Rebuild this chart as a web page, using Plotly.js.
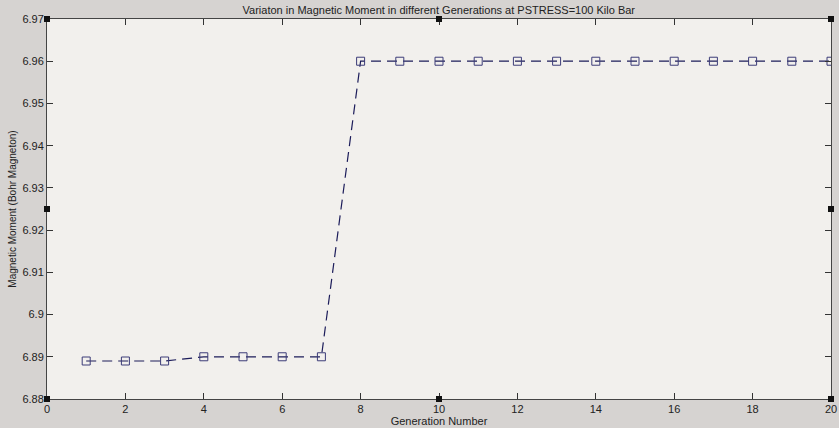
<!DOCTYPE html>
<html>
<head>
<meta charset="utf-8">
<script src="https://cdn.plot.ly/plotly-3.0.1.min.js"></script>
<style>html,body{margin:0;padding:0;background:#d6d3d1;}</style>
</head>
<body>
<div id="chart" style="width:839px;height:428px;"></div>
<script>
const generations = [1,2,3,4,5,6,7,8,9,10,11,12,13,14,15,16,17,18,19,20];
const moment = [6.889,6.889,6.889,6.890,6.890,6.890,6.890,6.960,6.960,6.960,6.960,6.960,6.960,6.960,6.960,6.960,6.960,6.960,6.960,6.960];
const xTicks = [0,2,4,6,8,10,12,14,16,18,20];
const yTicks = [6.88,6.89,6.90,6.91,6.92,6.93,6.94,6.95,6.96,6.97];
const yTickText = ['6.88','6.89','6.9','6.91','6.92','6.93','6.94','6.95','6.96','6.97'];

const handles = [[0,1],[0.5,1],[1,1],[0,0.5],[1,0.5],[0,0],[0.5,0],[1,0]].map(p => ({
  type:'rect', xref:'paper', yref:'paper', xsizemode:'pixel', ysizemode:'pixel',
  xanchor:p[0], yanchor:p[1], x0:-3, x1:3, y0:-3, y1:3,
  fillcolor:'#111', line:{width:0}
}));

const trace = {
  x: generations, y: moment, type:'scatter', mode:'lines+markers',
  line:{color:'#1c1c5a', width:1.2, dash:'10px,6px'},
  marker:{symbol:'square-open', size:8, color:'#3c3c78', line:{width:1}},
  hoverinfo:'skip'
};

const axisFont = {family:'"Liberation Sans", Arial, sans-serif', size:11, color:'#222'};
const layout = {
  width:839, height:428,
  margin:{l:47, r:8, t:19, b:29},
  paper_bgcolor:'#d6d3d1', plot_bgcolor:'#f2f0ed',
  showlegend:false,
  title:{text:'Variaton in Magnetic Moment in different Generations at PSTRESS=100 Kilo Bar',
    font:{family:'"Liberation Sans", Arial, sans-serif', size:11, color:'#222'},
    x:0.523, xanchor:'center', y:0.985, yanchor:'top'},
  xaxis:{range:[0,20], tickvals:xTicks, ticktext:xTicks.map(String), ticks:'inside', ticklen:6,
    tickcolor:'#333', showgrid:false, zeroline:false, showline:true, linecolor:'#444', linewidth:1,
    mirror:'ticks', tickfont:axisFont,
    title:{text:'Generation Number', font:axisFont, standoff:2}},
  yaxis:{range:[6.88,6.97], tickvals:yTicks, ticktext:yTickText, ticks:'inside', ticklen:6,
    tickcolor:'#333', showgrid:false, zeroline:false, showline:true, linecolor:'#444', linewidth:1,
    mirror:'ticks', tickfont:axisFont,
    title:{text:'Magnetic Moment (Bohr Magneton)', font:{family:'"Liberation Sans", Arial, sans-serif', size:10, color:'#222'}, standoff:3}},
  shapes: handles
};
Plotly.newPlot('chart',[trace],layout,{displayModeBar:false, staticPlot:true});
</script>
</body>
</html>
